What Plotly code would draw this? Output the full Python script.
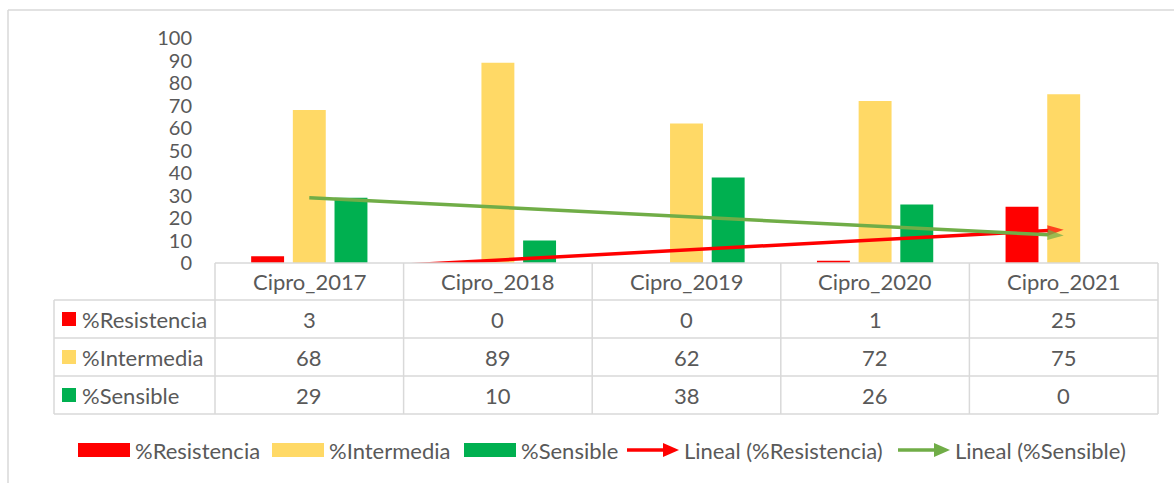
import numpy as np
import plotly.graph_objects as go

categories = ["Cipro_2017", "Cipro_2018", "Cipro_2019", "Cipro_2020", "Cipro_2021"]
resistencia = [3, 0, 0, 1, 25]
intermedia = [68, 89, 62, 72, 75]
sensible = [29, 10, 38, 26, 0]
series_names = ["%Resistencia", "%Intermedia", "%Sensible"]
trend_names = ["Lineal (%Resistencia)", "Lineal (%Sensible)"]
y_ticks = list(range(0, 101, 10))

W, H = 1174, 483
RED, YEL, GRN, TGRN = "#FF0000", "#FFD966", "#00B050", "#70AD47"
TXT = "#595959"
BORDER = "#D9D9D9"
FONT = "Lato"
FS = 22

def px(x):
    return x / W

def py(y):
    return 1 - y / H

# plot area in pixels
X0, X1 = 215, 1158
Y0, Y1 = 38, 263
# table rows
ROWS = [263, 300, 338, 376, 414]
TL = 54

fig = go.Figure()
for name, vals, col in zip(series_names, [resistencia, intermedia, sensible], [RED, YEL, GRN]):
    fig.add_trace(go.Bar(x=categories, y=vals, name=name, marker=dict(color=col, line=dict(width=0)),
                         showlegend=False))

xi = np.arange(len(categories))
for vals, col in [(resistencia, RED), (sensible, TGRN)]:
    k, b = np.polyfit(xi, vals, 1)
    trend = k * xi + b
    sizes = [0] * (len(categories) - 1) + [17]
    fig.add_trace(go.Scatter(x=categories, y=trend, mode="lines+markers",
                             line=dict(color=col, width=3.5),
                             marker=dict(symbol="arrow", angleref="previous", size=sizes, color=col,
                                         line=dict(width=0)),
                             showlegend=False, hoverinfo="skip"))

shapes = []
def hline(x0, x1, y):
    shapes.append(dict(type="line", xref="paper", yref="paper", x0=px(x0), x1=px(x1), y0=py(y), y1=py(y),
                       line=dict(color=BORDER, width=1.5)))
def vline(x, y0, y1):
    shapes.append(dict(type="line", xref="paper", yref="paper", x0=px(x), x1=px(x), y0=py(y0), y1=py(y1),
                       line=dict(color=BORDER, width=1.5)))

# outer chart border
hline(8, 1200, 10)
vline(8, 10, 520)

# table grid
hline(X0, X1, ROWS[0])
for r in ROWS[1:]:
    hline(TL, X1, r)
vline(TL, ROWS[1], ROWS[-1])
cw = (X1 - X0) / len(categories)
for i in range(len(categories) + 1):
    vline(X0 + i * cw, ROWS[0], ROWS[-1])

annotations = []
for c in categories:
    annotations.append(dict(x=c, xref="x", y=py((ROWS[0] + ROWS[1]) / 2), yref="paper", text=c,
                            showarrow=False, font=dict(family=FONT, size=FS, color=TXT),
                            xanchor="center", yanchor="middle"))
for ri, (name, vals, col) in enumerate(zip(series_names, [resistencia, intermedia, sensible], [RED, YEL, GRN])):
    yc = (ROWS[ri + 1] + ROWS[ri + 2]) / 2
    shapes.append(dict(type="rect", xref="paper", yref="paper", x0=px(62), x1=px(76), y0=py(yc - 7), y1=py(yc + 7),
                       fillcolor=col, line=dict(width=0)))
    annotations.append(dict(x=px(80), xref="paper", y=py(yc), yref="paper", text=name, showarrow=False,
                            font=dict(family=FONT, size=FS, color=TXT), xanchor="left", yanchor="middle"))
    for c, v in zip(categories, vals):
        annotations.append(dict(x=c, xref="x", y=py(yc), yref="paper", text=str(v), showarrow=False,
                                font=dict(family=FONT, size=FS, color=TXT), xanchor="center", yanchor="middle"))

# custom legend
LY = 450
leg_x = [78, 272, 464]
for name, col, lx in zip(series_names, [RED, YEL, GRN], leg_x):
    shapes.append(dict(type="rect", xref="paper", yref="paper", x0=px(lx), x1=px(lx + 52), y0=py(LY - 7),
                       y1=py(LY + 7), fillcolor=col, line=dict(width=0)))
    annotations.append(dict(x=px(lx + 55), xref="paper", y=py(LY), yref="paper", text=name, showarrow=False,
                            font=dict(family=FONT, size=FS, color=TXT), xanchor="left", yanchor="middle"))
for name, col, lx in zip(trend_names, [RED, TGRN], [627, 898]):
    shapes.append(dict(type="line", xref="paper", yref="paper", x0=px(lx), x1=px(lx + 38), y0=py(LY), y1=py(LY),
                       line=dict(color=col, width=3.5)))
    shapes.append(dict(type="path", xref="paper", yref="paper",
                       path=f"M {px(lx + 36)},{py(LY - 7)} L {px(lx + 52)},{py(LY)} L {px(lx + 36)},{py(LY + 7)} Z",
                       fillcolor=col, line=dict(width=0)))
    annotations.append(dict(x=px(lx + 55), xref="paper", y=py(LY), yref="paper", text=name, showarrow=False,
                            font=dict(family=FONT, size=FS, color=TXT), xanchor="left", yanchor="middle"))

fig.update_layout(
    width=W, height=H, margin=dict(l=0, r=0, t=0, b=0, autoexpand=False),
    paper_bgcolor="white", plot_bgcolor="white",
    barmode="group", bargap=0.337, bargroupgap=0.21,
    xaxis=dict(domain=[px(X0), px(X1)], showticklabels=False, showgrid=False, zeroline=False,
               showline=False, ticks="", automargin=False),
    yaxis=dict(domain=[py(Y1), py(Y0)], range=[0, 100], tickvals=y_ticks, showgrid=False, zeroline=False,
               showline=False, ticks="", ticklabelstandoff=22, automargin=False,
               tickfont=dict(family=FONT, size=20, color=TXT)),
    shapes=shapes, annotations=annotations,
    font=dict(family=FONT, color=TXT),
)

fig.write_html("out.html", config={"displayModeBar": False},
               post_script="document.body.style.margin='0';document.body.style.overflow='hidden';")
